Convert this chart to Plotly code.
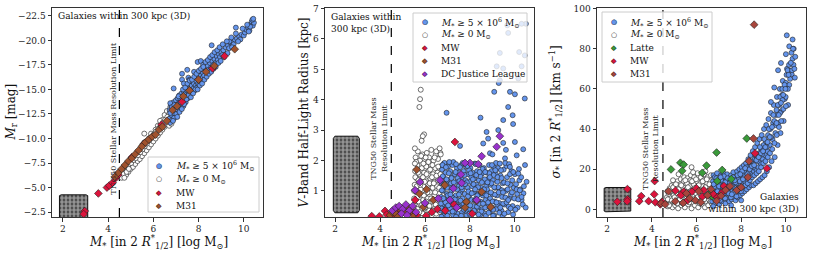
import plotly.graph_objects as go

W, H = 814, 256
FONT = "DejaVu Serif"

# ---------------- data ----------------
# Panel 1: r-band absolute magnitude vs stellar mass
p1_blue = [(6.70,-12.0),(6.72,-12.9),(6.75,-11.6),(6.78,-13.4),(6.80,-12.4),(6.83,-11.9),(6.85,-13.0),(6.88,-12.6),
           (6.90,-13.7),(6.92,-12.1),(6.95,-13.2),(6.98,-12.8),(7.00,-13.9),(7.02,-12.5),(7.05,-13.4),(7.08,-14.1),
           (7.10,-12.9),(7.13,-13.6),(7.15,-14.4),(7.18,-13.1),(7.20,-14.0),(7.23,-13.4),(7.25,-14.6),(7.28,-13.8),
           (7.30,-14.3),(7.33,-13.3),(7.35,-14.8),(7.38,-14.0),(7.40,-14.5),(7.43,-13.7),(7.45,-15.0),(7.48,-14.3),
           (7.50,-14.9),(7.53,-14.1),(7.55,-15.3),(7.58,-14.6),(7.60,-15.1),(7.63,-14.4),(7.65,-15.6),(7.68,-14.9),
           (7.70,-15.4),(7.73,-14.7),(7.75,-15.8),(7.78,-15.1),(7.80,-15.6),(7.83,-14.9),(7.85,-16.1),(7.88,-15.4),
           (7.90,-15.9),(7.93,-15.2),(7.95,-16.3),(7.98,-15.6),(8.00,-16.2),(8.03,-15.5),(8.05,-16.6),(8.08,-15.9),
           (8.10,-16.4),(8.13,-15.8),(8.15,-16.9),(8.18,-16.2),(8.20,-16.7),(8.25,-16.4),(8.30,-17.2),(8.35,-16.8),
           (8.40,-17.4),(8.45,-17.0),(8.50,-17.7),(8.55,-17.2),(8.60,-17.9),(8.65,-17.5),(8.70,-18.1),(8.75,-17.7),
           (8.80,-18.4),(8.85,-18.0),(8.90,-18.6),(8.95,-18.3),(9.00,-18.8),(9.05,-18.5),(9.10,-19.0),(9.20,-19.3),
           (9.30,-19.5),(9.35,-19.2),(9.40,-19.8),(9.50,-19.9),(9.55,-19.6),(9.60,-20.1),(9.70,-20.2),(9.80,-20.4),
           (9.85,-20.1),(9.90,-20.6),(10.00,-20.5),(10.05,-20.8),(10.10,-21.1),(10.20,-21.3),(10.25,-21.0),
           (10.30,-21.6),(10.35,-21.9),(10.40,-21.5),(10.45,-21.8),(10.38,-22.1),(10.28,-21.4),
           (6.90,-15.1),(7.27,-16.0),(7.27,-16.6),(7.50,-17.0),(7.96,-17.8),(8.10,-17.9),(8.58,-19.5),(9.36,-19.9),
           (9.65,-21.3),(7.35,-15.6),(7.55,-16.2),(7.80,-16.8),(7.60,-16.0),(8.20,-17.5),(6.75,-13.6),
           (6.75,-12.6),(6.82,-13.2),(6.87,-11.8),(6.93,-13.4),(7.03,-13.0),(7.06,-12.2),(7.12,-14.3),(7.16,-12.7),
           (7.21,-13.7),(7.26,-13.0),(7.31,-15.0),(7.36,-13.5),(7.41,-15.2),(7.46,-14.0),(7.51,-15.6),(7.56,-14.4),
           (7.61,-15.9),(7.66,-14.2),(7.71,-16.0),(7.76,-14.6),(7.81,-16.3),(7.86,-15.0),(7.91,-16.6),(7.96,-15.0),
           (8.01,-16.9),(8.06,-15.4),(8.11,-17.1),(8.16,-15.6),(8.21,-17.3),(8.26,-16.0),(8.31,-17.8),(8.36,-16.3),
           (8.41,-18.0),(8.46,-16.6),(8.51,-18.3),(8.56,-16.8),(8.61,-18.5),(8.66,-17.1),(8.71,-18.8),(8.76,-17.3),
           (8.83,-19.0),(8.88,-17.7),(8.93,-19.3),(8.98,-17.9),(9.07,-19.6),(9.13,-18.3),(9.25,-19.9),(9.28,-18.7),
           (9.45,-20.3),(9.48,-19.3),(9.65,-20.7),(9.75,-19.9),(9.95,-21.2),(10.15,-21.6),(10.22,-20.9),(10.42,-22.2)]
p1_white = [(4.70,-6.2),(4.75,-6.5),(4.80,-6.3),(4.85,-6.8),(4.90,-6.6),(4.95,-7.0),(5.00,-6.9),(5.05,-7.3),
            (5.10,-7.1),(5.15,-7.6),(5.20,-7.4),(5.25,-7.9),(5.30,-7.7),(5.35,-8.1),(5.40,-7.9),(5.45,-8.4),
            (5.50,-8.2),(5.55,-8.7),(5.60,-8.5),(5.65,-9.0),(5.70,-8.8),(5.75,-9.3),(5.80,-9.1),(5.85,-9.6),
            (5.90,-9.4),(5.95,-9.9),(6.00,-9.7),(6.05,-10.2),(6.10,-10.0),(6.15,-10.5),(6.20,-10.3),(6.25,-10.8),
            (6.30,-10.6),(6.35,-11.1),(6.40,-10.9),(6.45,-11.4),(6.50,-11.2),(6.55,-11.7),(6.60,-11.5),(6.65,-12.0),
            (6.70,-11.3),(6.75,-11.8),(6.80,-11.5),(6.90,-12.0),(7.00,-12.3),(5.00,-7.8),(5.30,-8.6),(5.60,-9.6),
            (5.90,-10.5),(6.20,-11.3),(6.40,-11.9),(6.50,-12.4),(6.60,-12.8),(6.75,-13.2),(6.85,-13.6),(6.30,-11.8),
            (6.70,-12.5),(5.60,-10.5),(5.20,-8.3),(5.50,-9.3),(5.80,-10.0),(6.10,-10.9),(4.90,-7.3),(4.60,-6.0),
            (4.65,-6.4),(4.72,-6.0),(4.82,-6.6),(4.92,-6.9),(5.02,-7.5),(5.12,-7.8),(5.22,-8.0),(5.32,-8.3),
            (5.42,-8.6),(5.52,-8.9),(5.62,-9.2),(5.72,-9.5),(5.82,-9.8),(5.92,-10.1),(6.02,-10.4),(6.12,-10.7),
            (6.22,-11.0),(6.32,-11.3),(6.42,-11.6),(6.52,-11.9),(6.62,-12.2),(6.72,-12.0),(6.82,-12.3),(6.95,-12.7),
            (7.05,-12.9)]
p1_mw = [(2.97,-2.6),(2.92,-2.3),(3.57,-4.4),(3.95,-5.0),(4.05,-5.2),(4.20,-5.5),(4.35,-6.0),(4.45,-6.3),
         (6.37,-11.4),(7.27,-13.75),(8.62,-17.15),(9.15,-18.4),(5.05,-8.1),(5.60,-9.5)]
p1_m31 = [(4.30,-6.1),(4.45,-6.5),(4.60,-6.9),(4.75,-7.3),(4.90,-7.7),(5.05,-8.0),(5.20,-8.4),(5.35,-8.8),
          (5.50,-9.2),(5.65,-9.6),(5.80,-9.9),(5.95,-10.2),(6.10,-10.4),(6.25,-10.9),(6.40,-11.2),(6.60,-11.8),
          (6.85,-12.9),(7.05,-13.3),(7.33,-14.3),(7.60,-14.9),(8.00,-16.0),(8.33,-16.8),(8.70,-17.4),(9.60,-19.1)]

# Panel 2: V-band half-light radius vs stellar mass
p2_blue = [(6.70,0.35),(6.72,0.80),(6.74,1.25),(6.76,1.70),(6.78,0.55),(6.80,1.00),(6.82,1.45),(6.84,1.90),
           (6.86,0.25),(6.88,0.70),(6.90,1.15),(6.92,1.60),(6.95,0.45),(6.97,0.90),(7.00,1.35),(7.02,1.80),
           (7.05,0.30),(7.07,0.75),(7.10,1.20),(7.12,1.65),(7.15,0.55),(7.17,1.00),(7.20,1.45),(7.22,1.85),
           (7.25,0.20),(7.27,0.65),(7.30,1.10),(7.32,1.55),(7.35,0.40),(7.37,0.85),(7.40,1.30),(7.42,1.75),
           (7.45,0.25),(7.47,0.70),(7.50,1.15),(7.52,1.60),(7.55,0.50),(7.57,0.95),(7.60,1.40),(7.62,1.85),
           (7.65,0.30),(7.67,0.75),(7.70,1.20),(7.72,1.65),(7.75,0.45),(7.77,0.90),(7.80,1.35),(7.82,1.80),
           (7.85,0.20),(7.87,0.65),(7.90,1.10),(7.92,1.55),(7.95,0.40),(7.97,0.85),(8.00,1.30),(8.02,1.75),
           (8.05,0.25),(8.07,0.70),(8.10,1.15),(8.12,1.60),(8.15,0.50),(8.17,0.95),(8.20,1.40),(8.22,1.90),
           (8.25,0.30),(8.27,0.75),(8.30,1.20),(8.32,1.65),(8.35,0.45),(8.37,0.90),(8.40,1.35),(8.42,1.85),
           (8.45,0.20),(8.47,0.65),(8.50,1.10),(8.52,1.55),(8.55,0.40),(8.57,0.85),(8.60,1.30),(8.62,1.75),
           (8.65,0.25),(8.70,0.70),(8.72,1.15),(8.75,1.60),(8.78,0.50),(8.80,0.95),(8.82,1.40),(8.85,1.85),
           (8.88,0.30),(8.90,0.75),(8.92,1.20),(8.95,1.65),(8.98,0.45),(9.00,0.90),(9.02,1.35),(9.05,1.80),
           (9.08,0.20),(9.10,0.65),(9.12,1.10),(9.15,1.55),(9.18,0.40),(9.20,0.85),(9.22,1.30),(9.25,1.75),
           (9.30,0.60),(9.33,1.05),(9.36,1.50),(9.40,0.35),(9.43,0.80),(9.46,1.25),(9.50,1.70),(9.55,0.55),
           (9.60,1.00),(9.65,1.45),(9.70,0.30),(9.75,0.75),(9.80,1.20),(9.85,1.65),(9.90,0.50),(9.95,1.10),
           (10.00,1.55),(10.10,0.90),(10.20,1.35),(10.30,0.70),
           (6.71,0.58),(6.75,1.02),(6.79,1.48),(6.83,0.18),(6.87,1.92),(6.91,0.62),(6.96,1.38),(7.01,0.85),
           (7.06,1.58),(7.11,0.42),(7.16,1.25),(7.21,0.78),(7.26,1.95),(7.31,0.32),(7.36,1.62),(7.41,0.55),
           (7.46,1.42),(7.51,0.88),(7.56,1.78),(7.61,0.18),(7.66,1.05),(7.71,0.58),(7.76,1.52),(7.81,0.35),
           (7.86,1.28),(7.91,0.82),(7.96,1.68),(8.01,0.52),(8.06,1.45),(8.11,0.28),(8.16,1.22),(8.21,0.68),
           (8.26,1.88),(8.31,0.48),(8.36,1.12),(8.41,0.58),(8.46,1.48),(8.51,0.32),(8.56,1.72),(8.61,0.92),
           (8.66,1.38),(8.71,0.18),(8.76,1.05),(8.81,0.62),(8.86,1.58),(8.91,0.42),(8.96,1.25),(9.01,0.65),
           (9.06,1.52),(9.11,0.88),(9.16,1.92),(9.21,0.55),(9.26,1.12),(9.31,0.28),(9.38,1.68),(9.42,1.02),
           (9.48,0.58),(9.52,1.28),(9.58,0.78),(9.62,1.82),(9.68,1.05),(9.72,0.48),(9.78,1.55),(9.82,0.88),
           (9.88,1.35),(9.92,0.22),(9.98,0.75),(10.05,1.22),(10.12,0.45),(10.18,1.72),(10.25,1.05),(10.35,0.55),
           (10.40,1.15),(10.45,1.85),(6.73,0.15),(6.99,0.18),(7.38,0.15),(8.03,0.15),(8.68,0.45),(9.45,0.15),
           (9.03,0.18),
           (6.74,0.42),(6.78,1.85),(6.81,0.75),(6.85,1.22),(6.89,0.38),(6.93,1.78),(6.98,1.10),(7.03,0.52),
           (7.08,1.95),(7.13,0.88),(7.18,1.42),(7.23,0.32),(7.28,1.28),(7.33,0.72),(7.38,1.88),(7.43,1.05),
           (7.48,0.48),(7.53,1.32),(7.58,0.68),(7.63,1.12),(7.68,1.92),(7.73,0.38),(7.78,1.22),(7.83,0.62),
           (7.88,1.82),(7.93,0.98),(7.98,0.25),(8.03,1.58),(8.08,0.92),(8.13,1.38),(8.18,0.35),(8.23,1.05),
           (8.28,1.52),(8.33,0.85),(8.38,0.22),(8.43,1.62),(8.48,0.95),(8.53,1.28),(8.58,0.58),(8.63,1.05),
           (8.68,1.62),(8.73,0.85),(8.78,1.28),(8.83,0.28),(8.88,1.45),(8.93,0.95),(8.98,1.85),(9.03,0.38),
           (9.08,1.12),(9.13,1.68),(9.18,0.62),(9.23,1.45),(9.28,0.95),(9.35,0.45),(9.41,1.42),(9.47,0.95),
           (9.53,0.25),(9.57,1.92),(9.63,0.62),(9.67,1.25),(9.74,1.88),(9.81,0.42),(9.87,0.95),(9.93,1.62),
           (10.02,0.38),(10.08,1.05),(10.15,0.72),(10.28,1.45),(10.38,0.92),(10.48,0.45),
           (6.96,3.57),(8.47,3.41),(7.56,2.48),(9.08,4.26),(9.78,4.26),(10.00,4.18),(10.44,4.04),(9.70,3.76),
           (9.48,3.33),(9.90,3.49),(9.92,3.20),(9.26,3.00),(8.74,2.94),(8.81,2.72),(8.59,2.56),(9.48,2.58),
           (10.00,2.61),(10.37,2.37),(9.56,2.07),(10.08,2.17),(9.33,1.90),(8.89,2.24),(9.78,1.79),(10.15,1.57),
           (10.52,1.30),(10.22,1.02),(10.30,0.80),(9.70,0.70),(9.19,5.10),(9.48,5.03),(9.33,5.54),(9.70,6.20),
           (9.66,6.45),(10.49,6.50),(10.30,6.50),(10.19,5.57),(10.44,5.46),(10.30,5.10),(10.15,4.70),(9.33,4.64),
           (9.28,4.55),(9.00,2.20),(9.60,2.35)]
p2_white = [(5.50,0.30),(5.52,0.75),(5.54,1.20),(5.56,1.65),(5.58,2.10),(5.60,0.50),(5.62,0.95),(5.64,1.40),
            (5.66,1.85),(5.68,2.30),(5.70,0.20),(5.72,0.65),(5.74,1.10),(5.76,1.55),(5.78,2.00),(5.80,0.40),
            (5.82,0.85),(5.84,1.30),(5.86,1.75),(5.88,2.20),(5.90,0.25),(5.92,0.70),(5.94,1.15),(5.96,1.60),
            (5.98,2.05),(6.00,0.45),(6.02,0.90),(6.04,1.35),(6.06,1.80),(6.08,2.25),(6.10,0.30),(6.12,0.75),
            (6.14,1.20),(6.16,1.65),(6.18,2.10),(6.20,0.50),(6.22,0.95),(6.24,1.40),(6.26,1.85),(6.28,2.35),
            (6.30,0.20),(6.32,0.65),(6.34,1.10),(6.36,1.55),(6.38,2.00),(6.40,0.40),(6.42,0.85),(6.44,1.30),
            (6.46,1.75),(6.48,2.20),(6.50,0.25),(6.52,0.70),(6.54,1.15),(6.56,1.60),(6.58,2.05),(6.60,0.45),
            (6.62,0.90),(6.64,1.35),(6.66,1.80),(6.68,2.25),(5.53,0.55),(5.57,1.45),(5.61,1.95),(5.69,1.60),
            (5.81,1.05),(5.93,1.90),(6.05,0.65),(6.21,1.25),(6.33,1.85),(6.45,0.95),(6.57,1.35),(6.63,0.60),
            (5.51,1.00),(5.55,1.90),(5.59,0.20),(5.63,1.15),(5.67,0.40),(5.71,1.35),(5.75,0.30),(5.79,1.20),
            (5.83,2.15),(5.87,0.55),(5.91,1.45),(5.95,0.85),(5.99,1.30),(6.03,2.10),(6.07,1.55),(6.11,0.95),
            (6.15,1.95),(6.19,0.35),(6.23,1.70),(6.27,0.75),(6.31,1.45),(6.35,0.35),(6.39,1.25),(6.43,2.10),
            (6.47,0.55),(6.51,1.50),(6.55,0.40),(6.59,1.80),(6.63,1.10),(6.67,0.30),(6.69,1.55),
            (5.81,4.33),(5.78,4.02),(5.75,3.76),(5.96,2.86),(5.90,2.80),(5.85,2.65),(5.55,2.40),(6.50,2.30),
            (6.65,2.40),(6.70,2.20)]
p2_mw = [(7.33,2.61),(3.63,0.17),(4.22,0.34),(3.97,0.16),(4.30,0.22),(4.60,0.20),(4.75,0.35),(5.19,0.37),
         (5.63,0.20),(5.56,0.70),(5.35,0.30),(6.05,0.18),(6.30,0.30),(6.55,0.40),(6.90,0.35),(7.30,0.55),
         (8.10,0.25)]
p2_m31 = [(5.63,1.70),(5.75,0.91),(6.07,1.05),(6.88,1.19),(7.84,0.64),(8.30,0.67),(8.52,0.97),(7.78,0.45),
          (8.92,0.47),(6.37,0.70),(5.93,0.47),(5.48,0.20),(4.45,0.20),(4.55,0.30),(4.70,0.25),(4.90,0.40),
          (5.05,0.30),(5.25,0.45),(4.80,0.15),(5.40,0.35)]
p2_dcjl = [(9.33,2.80),(9.19,2.45),(8.52,2.14),(8.00,1.92),(7.78,1.92),(8.37,1.88),(7.60,1.54),(7.26,1.08),
           (5.78,1.29),(5.56,1.02),(6.59,0.75),(7.11,0.70),(7.41,0.45),(7.63,1.26),(6.67,1.35),(8.30,0.70),
           (4.55,0.35),(4.70,0.45),(4.85,0.50),(5.00,0.40),(5.15,0.55),(5.30,0.35),(5.45,0.50),(4.95,0.25),
           (5.60,0.30),(6.00,0.60),(5.20,0.20)]

# Panel 3: stellar velocity dispersion vs stellar mass
p3_blue = [(6.70,4),(6.72,9),(6.74,14),(6.76,17),(6.78,6),(6.80,11),(6.82,16),(6.85,3),(6.87,8),(6.90,13),
           (6.92,18),(6.95,5),(6.97,10),(7.00,15),(7.02,2.5),(7.05,7),(7.07,12),(7.10,17),(7.12,4),(7.15,9),
           (7.17,14),(7.20,18),(7.22,6),(7.25,11),(7.27,16),(7.30,3),(7.32,8),(7.35,13),(7.37,17.5),(7.40,5),
           (7.42,10),(7.45,15),(7.47,4),(7.50,7),(7.52,12),(7.55,17),(7.57,5),(7.60,9),(7.62,14),(7.65,18.5),
           (7.67,6),(7.70,11),(7.72,16),(7.75,4.5),(7.77,8),(7.80,13),(7.82,19),(7.85,6),(7.87,10),(7.90,15),
           (7.92,20),(7.95,7),(7.97,12),(8.00,17),(8.02,21),(8.05,8),(8.07,13),(8.10,18),(8.12,22),(8.15,9),
           (8.17,14),(8.20,19),(8.22,23),(8.25,10),(8.27,15),(8.30,20),(8.32,25),(8.35,11),(8.37,17),(8.40,22),
           (8.42,27),(8.45,12),(8.47,18),(8.50,23),(8.52,29),(8.55,12),(8.57,19),(8.60,25),(8.62,31),(8.65,13),
           (8.67,20),(8.70,26),(8.72,33),(8.75,14),(8.77,21),(8.80,28),(8.82,35),(8.85,15),(8.87,23),(8.90,30),
           (8.92,37),(8.95,16),(8.97,25),(9.00,32),(9.02,40),(9.05,17),(9.08,27),(9.10,34),(9.12,42),(9.15,19),
           (9.18,29),(9.20,37),(9.22,45),(9.25,21),(9.28,32),(9.30,40),(9.33,48),(9.36,24),(9.40,35),(9.43,43),
           (9.46,52),(9.50,26),(9.53,38),(9.56,47),(9.60,56),(9.63,32),(9.66,43),(9.70,52),(9.73,60),(9.76,38),
           (9.80,49),(9.83,57),(9.86,64),(9.90,44),(9.95,55),(10.00,63),(10.05,70),(10.10,52),(10.15,62),
           (10.20,69),(10.30,75),(10.35,80),
           (6.71,7),(6.77,12.5),(6.83,5),(6.89,15.5),(6.94,9),(7.01,11.5),(7.06,4.5),(7.11,14.5),(7.18,7.5),
           (7.23,16.5),(7.28,5.5),(7.34,10.5),(7.39,15.5),(7.44,8),(7.49,13),(7.54,6),(7.59,11.5),(7.64,16),
           (7.69,8.5),(7.74,13.5),(7.79,6.5),(7.84,17),(7.89,10.5),(7.94,14),(7.99,9),(8.04,19),(8.09,11.5),
           (8.14,16),(8.19,12),(8.24,21),(8.29,13),(8.34,18.5),(8.39,14.5),(8.44,24),(8.49,16),(8.54,21),
           (8.59,17),(8.64,27),(8.69,18),(8.74,24),(8.79,19),(8.84,31),(8.89,21),(8.94,27.5),(8.99,23),(9.04,35),
           (9.09,24),(9.14,31),(9.19,26),(9.24,40),(9.29,28),(9.34,36),(9.39,30),(9.44,47),(9.49,33),(9.54,42),
           (9.59,37),(9.64,52),(9.69,41),(9.74,48),(9.79,44),(9.84,60),(9.89,50),(9.94,62),(9.99,56),(10.03,67),
           (10.09,60),(10.14,72),(10.19,65),(10.25,78),(10.34,72),(10.42,76),
           (10.04,86.7),(10.30,84.6),(10.15,81.2),(10.32,80.0),(10.00,77.3),(9.78,72.9),(9.65,69.3),(10.08,69.3),
           (10.26,67.3),(10.40,65.6),(9.48,60.7),(9.33,53.5),(7.55,2.0),(8.00,4.5),(6.75,1.5),(9.58,49.5),
           (9.75,56.0),(9.85,54.4),(10.00,51.4),(10.28,69.3),
           (6.98,6.5),(7.08,16),(7.19,11),(7.29,13.5),(7.46,11),(7.58,7.5),(7.71,14.5),(7.83,9.5),(7.96,17.5),
           (8.08,15),(8.18,20.5),(8.28,17.5),(8.38,20),(8.48,21.5),(8.58,22),(8.68,24.5),(8.78,26),(8.88,28),
           (8.98,29),(9.08,31),(9.18,33.5),(9.28,36),(9.38,41),(9.48,44),(9.58,43),(9.68,47),(9.78,53),(9.88,57),
           (9.98,60),(10.12,67),(10.22,73),(10.38,70)]
p3_white = [(4.65,3),(4.68,6),(4.70,9),(4.72,1.5),(4.75,4.5),(4.78,7.5),(4.80,10.5),(4.83,2.5),(4.85,5.5),
            (4.88,8.5),(4.90,12),(4.93,1),(4.95,4),(4.98,7),(5.00,10),(5.02,13),(5.05,2),(5.08,5),(5.10,8),
            (5.12,11),(5.15,14),(5.18,0.5),(5.20,3.5),(5.23,6.5),(5.25,9.5),(5.28,12.5),(5.30,15),(5.33,2),
            (5.35,5),(5.38,8),(5.40,11),(5.43,14),(5.45,16),(5.48,1),(5.50,4),(5.53,7),(5.55,10),(5.58,13),
            (5.60,15.5),(5.63,2.5),(5.65,5.5),(5.68,8.5),(5.70,11.5),(5.73,14.5),(5.75,17),(5.78,0.5),(5.80,3.5),
            (5.83,6.5),(5.85,9.5),(5.88,12.5),(5.90,16),(5.93,2),(5.95,5),(5.98,8),(6.00,11),(6.03,14),(6.05,18),
            (6.08,1),(6.10,4),(6.13,7),(6.15,10),(6.18,13),(6.20,16),(6.23,2.5),(6.25,5.5),(6.28,8.5),(6.30,11.5),
            (6.33,14.5),(6.35,17.5),(6.38,1),(6.40,4),(6.43,7),(6.45,10),(6.48,13),(6.50,16),(6.53,2),(6.55,5),
            (6.58,8),(6.60,11),(6.63,14),(6.65,17),(6.68,3),(5.78,21),(5.20,17.5),(5.85,18.5),(6.40,19),(4.95,14.5),
            (4.72,5),(4.78,2),(4.84,9),(4.90,4.5),(4.96,11),(5.02,6),(5.08,12.5),(5.14,3),(5.20,10),(5.26,5),
            (5.32,12),(5.38,3),(5.44,9),(5.50,14.5),(5.56,5.5),(5.62,11),(5.68,3.5),(5.74,9),(5.80,14),(5.86,5),
            (5.92,10.5),(5.98,15),(6.04,6),(6.10,12),(6.16,3),(6.22,9),(6.28,14),(6.34,5),(6.40,11),(6.46,15),
            (6.52,6.5),(6.58,12.5),(6.64,4),(6.66,10)]
p3_latte = [(8.25,35.3),(6.90,28.3),(5.28,23.2),(5.43,22.3),(6.45,21.8),(4.86,19.9),(5.36,19.2),(6.26,18.2),
            (7.15,19.6),(7.56,15.1),(6.93,14.1),(6.60,7.8),(6.70,6.5)]
p3_mw = [(2.91,10.1),(2.91,5.0),(2.90,4.0),(2.46,3.8),(3.53,6.6),(3.44,4.1),(3.86,4.1),(4.16,3.5),(4.11,7.5),
         (4.13,14.1),(4.46,3.8),(4.38,2.5),(5.06,9.3),(5.43,8.8),(5.30,7.0),(5.80,8.8),(6.26,6.3),(6.33,9.6),
         (6.75,7.6),(7.23,11.6),(7.15,8.5),(6.93,6.0),(8.62,27.9),(9.15,20.4),(5.60,4.5),(6.00,10.5)]
p3_m31 = [(8.58,92.0),(8.55,35.3),(8.35,24.0),(8.30,16.0),(4.42,3.0),(4.60,2.5),(4.75,9.0),(5.05,4.0),
          (5.40,3.2),(5.55,8.0),(5.70,5.5),(5.95,4.5),(6.10,9.0),(6.20,3.5),(6.50,7.0),(6.65,10.0),(6.90,4.2),
          (7.10,6.8),(7.30,9.6),(7.50,11.5),(7.80,9.5),(8.00,11.0)]

# extents of the packed low-mass (unresolved) galaxy blocks: [x0, x1], [y0, y1]
box_x = [[1.85, 3.10], [1.92, 3.08], [1.87, 3.06]]
box_y = [[-4.26, -1.5], [0.28, 2.80], [-1.2, 10.9]]

resolution_limit = 4.5
x_ticks = [2, 4, 6, 8, 10]
y_ticks = [[-22.5, -20.0, -17.5, -15.0, -12.5, -10.0, -7.5, -5.0, -2.5],
           [1, 2, 3, 4, 5, 6, 7],
           [0, 20, 40, 60, 80, 100]]
y_tick_text = [["−22.5", "−20.0", "−17.5", "−15.0", "−12.5", "−10.0", "−7.5", "−5.0", "−2.5"],
               ["1", "2", "3", "4", "5", "6", "7"],
               ["0", "20", "40", "60", "80", "100"]]

# ---------------- styles ----------------
BLUE = "#6495ED"
EDGE = "#202020"
MW = "#DC143C"
M31_A = "#A0522D"
M31_B = "#A8453C"
LATTE = "#3A9A3A"
DCJL = "#9932CC"

LBL_BLUE = "<i>M</i><sub>*</sub> ≥ 5 × 10<sup>6</sup> M<sub>⊙</sub>"
LBL_WHITE = "<i>M</i><sub>*</sub> ≥ 0 M<sub>⊙</sub>"

fig = go.Figure()


def pts(lst):
    return [p[0] for p in lst], [p[1] for p in lst]


def ax(i):
    return ("x", "y") if i == 0 else (f"x{i+1}", f"y{i+1}")


def add_box(i):
    x0, x1 = box_x[i]
    y0, y1 = box_y[i]
    cx = 0.06 * (x1 - x0)
    cy = 0.03 * (y1 - y0)
    xs = [x0 + cx, x1 - cx, x1, x1, x1 - cx, x0 + cx, x0, x0, x0 + cx]
    ys = [y0, y0, y0 + cy, y1 - cy, y1, y1, y1 - cy, y0 + cy, y0]
    xa, ya = ax(i)
    fig.add_trace(go.Scatter(x=xs, y=ys, mode="lines", fill="toself",
                             line=dict(color="#111111", width=1),
                             fillcolor="#333333",
                             fillpattern=dict(shape=".", fgcolor="#f4f4f4", bgcolor="#333333",
                                              size=4, solidity=0.7),
                             xaxis=xa, yaxis=ya, showlegend=False, hoverinfo="skip"))


def add_pts(i, lst, color, symbol="circle", size=5, lw=0.6, lc=EDGE):
    x, y = pts(lst)
    xa, ya = ax(i)
    fig.add_trace(go.Scatter(x=x, y=y, mode="markers",
                             marker=dict(color=color, symbol=symbol, size=size,
                                         line=dict(color=lc, width=lw)),
                             xaxis=xa, yaxis=ya, showlegend=False))


# panel 1
add_box(0)
add_pts(0, p1_white, "white", lw=0.7, lc="#333")
add_pts(0, p1_blue, BLUE)
add_pts(0, p1_mw, MW, "diamond", 6)
add_pts(0, p1_m31, M31_A, "diamond", 6)
# panel 2
add_box(1)
add_pts(1, p2_white, "white", lw=0.7, lc="#333")
add_pts(1, p2_blue, BLUE)
add_pts(1, p2_mw, MW, "diamond", 6)
add_pts(1, p2_m31, M31_A, "diamond", 6)
add_pts(1, p2_dcjl, DCJL, "diamond", 6)
# panel 3
add_box(2)
add_pts(2, p3_white, "white", lw=0.7, lc="#333")
add_pts(2, p3_blue, BLUE)
add_pts(2, p3_latte, LATTE, "diamond", 6)
add_pts(2, p3_mw, MW, "diamond", 6)
add_pts(2, p3_m31, M31_B, "diamond", 6)

# ---------------- layout ----------------
ML, MR, MT, MB = 52, 8, 8, 39
PW, PH = W - ML - MR, H - MT - MB
panel_px = [(52, 263), (325, 534), (597, 806)]
y_ranges = [[-2.0, -23.3], [0.14, 7.02], [-3.8, 100.3]]
y_titles = ["<i>M</i><sub>r</sub> [mag]",
            "<i>V</i>-Band Half-Light Radius [kpc]",
            "<i>σ</i><sub>*</sub> [in 2 <i>R</i><sup>*</sup><sub>1/2</sub>] [km s<sup>−1</sup>]"]
y_title_px = [11, 303, 555]
x_title = "<i>M</i><sub>*</sub> [in 2 <i>R</i><sup>*</sup><sub>1/2</sub>] [log M<sub>⊙</sub>]"
x_ranges = [[1.52, 10.85], [1.55, 10.85], [1.55, 10.9]]

axis_common = dict(showline=True, linecolor="#333", linewidth=1, mirror=True, ticks="outside",
                   ticklen=3.5, tickwidth=1, tickcolor="#333", showgrid=False, zeroline=False,
                   tickfont=dict(family=FONT, size=9, color="#222"), automargin=False)


def px_x(p):
    return (p - ML) / PW


def px_y(p):
    return 1 - (p - MT) / PH


shapes = []
annotations = []
for i in range(3):
    sx = "" if i == 0 else str(i + 1)
    a, b = panel_px[i]
    fig.update_layout({
        f"xaxis{sx}": dict(axis_common, domain=[px_x(a), px_x(b)], range=x_ranges[i],
                           tickvals=x_ticks, anchor=f"y{sx}"),
        f"yaxis{sx}": dict(axis_common, domain=[0, 1], range=y_ranges[i], anchor=f"x{sx}",
                           tickvals=y_ticks[i], ticktext=y_tick_text[i]),
    })
    annotations.append(dict(xref="paper", yref="paper", x=px_x((a + b) / 2 + 1), y=px_y(242),
                            xanchor="center", yanchor="middle", showarrow=False, text=x_title,
                            font=dict(family=FONT, size=12, color="#111")))
    annotations.append(dict(xref="paper", yref="paper", x=px_x(y_title_px[i]), y=px_y(112.5),
                            xanchor="center", yanchor="middle", showarrow=False, text=y_titles[i],
                            textangle=-90, font=dict(family=FONT, size=12, color="#111")))
    shapes.append(dict(type="line", xref=f"x{sx}", yref=f"y{sx} domain", x0=resolution_limit,
                       x1=resolution_limit, y0=0, y1=1, line=dict(color="black", width=1.2, dash="dash"),
                       layer="below"))

# rotated resolution-limit labels
annotations.append(dict(xref="x", yref="y", x=4.25, y=-12.1, text="TNG50 Stellar Mass Resolution Limit",
                        textangle=-90, showarrow=False, font=dict(family=FONT, size=8, color="#222")))
annotations.append(dict(xref="x2", yref="y2", x=3.93, y=2.73, text="TNG50 Stellar Mass<br>Resolution Limit",
                        textangle=-90, showarrow=False, font=dict(family=FONT, size=8, color="#222")))
annotations.append(dict(xref="x3", yref="y3", x=3.91, y=30, text="TNG50 Stellar Mass<br>Resolution Limit",
                        textangle=-90, showarrow=False, font=dict(family=FONT, size=8, color="#222")))

# "Galaxies within 300 kpc" labels
annotations.append(dict(xref="paper", yref="paper", x=px_x(56), y=px_y(16),
                        xanchor="left", yanchor="middle", align="left", showarrow=False,
                        text="Galaxies within 300 kpc (3D)", font=dict(family=FONT, size=9, color="#111")))
annotations.append(dict(xref="paper", yref="paper", x=px_x(329), y=px_y(10),
                        xanchor="left", yanchor="top", align="left", showarrow=False,
                        text="Galaxies within<br>300 kpc (3D)", font=dict(family=FONT, size=9, color="#111")))
annotations.append(dict(xref="paper", yref="paper", x=px_x(801), y=px_y(216),
                        xanchor="right", yanchor="bottom", align="right", showarrow=False,
                        text="Galaxies<br>within 300 kpc (3D)", font=dict(family=FONT, size=9, color="#111")))


# custom legends (boxes + glyph markers + labels)
def legend(box, rows, sym_x, txt_x, entries):
    x0, y0, x1, y1 = box
    shapes.append(dict(type="rect", xref="paper", yref="paper",
                       x0=px_x(x0), x1=px_x(x1), y0=px_y(y1), y1=px_y(y0),
                       fillcolor="rgba(255,255,255,0.8)", line=dict(color="#cccccc", width=1), layer="above"))
    for ry, (label, color, kind) in zip(rows, entries):
        fill_g, edge_g = ("●", "○") if kind == "c" else ("◆", "◇")
        for g, c in ((fill_g, color), (edge_g, EDGE)):
            annotations.append(dict(xref="paper", yref="paper", x=px_x(sym_x), y=px_y(ry), text=g,
                                    showarrow=False, xanchor="center", yanchor="middle",
                                    font=dict(family="DejaVu Sans", size=7, color=c)))
        annotations.append(dict(xref="paper", yref="paper", x=px_x(txt_x), y=px_y(ry), text=label,
                                showarrow=False, xanchor="left", yanchor="middle",
                                font=dict(family=FONT, size=9, color="#111")))


legend((148, 157, 259, 212), [165.5, 179, 192.5, 205.5], 159, 174,
       [(LBL_BLUE, BLUE, "c"), (LBL_WHITE, "white", "c"), ("MW", MW, "d"), ("M31", M31_A, "d")])
legend((413, 13, 527, 82), [22.5, 34.5, 48, 61, 74], 425, 439,
       [(LBL_BLUE, BLUE, "c"), (LBL_WHITE, "white", "c"), ("MW", MW, "d"), ("M31", M31_A, "d"),
        ("DC Justice League", DCJL, "d")])
legend((602, 12, 712, 82), [22, 34.5, 48, 61, 74], 614, 628,
       [(LBL_BLUE, BLUE, "c"), (LBL_WHITE, "white", "c"), ("Latte", LATTE, "d"), ("MW", MW, "d"),
        ("M31", M31_B, "d")])

fig.update_layout(width=W, height=H, margin=dict(l=ML, r=MR, t=MT, b=MB),
                  paper_bgcolor="white", plot_bgcolor="white", showlegend=False,
                  shapes=shapes, annotations=annotations, font=dict(family=FONT))

# the page's default 8px body margin would shift the figure; remove it
fig.write_html("out.html", config={"displayModeBar": False},
               post_script="document.body.style.margin='0px';")
